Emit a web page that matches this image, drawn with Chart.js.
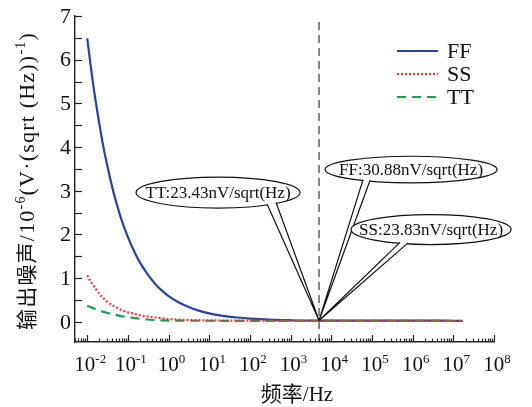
<!DOCTYPE html>
<html lang="zh">
<head>
<meta charset="UTF-8">
<title>输出噪声</title>
<script src="https://cdn.jsdelivr.net/npm/chart.js"></script>
<style>
    body {
        margin: 0;
        background: #fff;
    }
    #wrap {
        width: 532px;
        height: 407px;
    }
</style>
</head>
<body>
<div id="wrap"><canvas id="noiseChart"></canvas></div>

<script>
    // 频率 (Hz) 及三组输出噪声 (10^-6 V/sqrt(Hz))
    const freqs = [0.01, 0.012, 0.015, 0.02, 0.025, 0.03, 0.04, 0.05, 0.07, 0.1, 0.15, 0.2, 0.3, 0.5, 0.7, 1, 2, 3, 5, 10, 20, 50, 100, 300, 1000, 5000, 1e4, 1e5, 1e6, 1e7, 1.7e7];
    const ffNoise = [6.49, 5.90, 5.24, 4.51, 4.00, 3.64, 3.13, 2.78, 2.33, 1.94, 1.57, 1.35, 1.10, 0.84, 0.71, 0.59, 0.42, 0.345, 0.27, 0.196, 0.145, 0.10, 0.075, 0.05, 0.038, 0.031, 0.031, 0.030, 0.030, 0.026, 0.025];
    const ssNoise = [1.07, 0.93, 0.80, 0.64, 0.54, 0.47, 0.39, 0.34, 0.27, 0.22, 0.18, 0.15, 0.125, 0.10, 0.08, 0.065, 0.05, 0.045, 0.04, 0.035, 0.032, 0.03, 0.028, 0.026, 0.025, 0.024, 0.024, 0.024, 0.023, 0.021, 0.02];
    const ttNoise = [0.37, 0.34, 0.30, 0.26, 0.23, 0.21, 0.18, 0.16, 0.13, 0.11, 0.085, 0.07, 0.055, 0.04, 0.035, 0.03, 0.028, 0.027, 0.026, 0.026, 0.025, 0.025, 0.024, 0.024, 0.024, 0.0234, 0.023, 0.023, 0.022, 0.021, 0.02];
    const seriesNames = ['FF', 'SS', 'TT'];

    const markerFreq = 5000;
    const calloutTexts = ['TT:23.43nV/sqrt(Hz)', 'FF:30.88nV/sqrt(Hz)', 'SS:23.83nV/sqrt(Hz)'];

    const yTicks = [0, 1, 2, 3, 4, 5, 6, 7];
    const xDecades = [-2, -1, 0, 1, 2, 3, 4, 5, 6, 7, 8];

    const SERIF = '"Liberation Serif", "Times New Roman", "Noto Sans CJK SC", serif';
    const colors = { FF: '#2443a3', SS: '#f0343c', TT: '#16a04c' };
    const dashes = { FF: [], SS: [2, 2], TT: [9, 6] };

    // 标注框位置 (相对标注点的像素偏移)
    const calloutStyle = [
        { dx: -101, dy: -128, rx: 82, ry: 15.5, b1: 49, b2: 58 },
        { dx: 92, dy: -151, rx: 86, ry: 13.3, b1: -48, b2: -41 },
        { dx: 112, dy: -91, rx: 80, ry: 15, b1: -31, b2: -23 }
    ];

    function pts(values) {
        return freqs.map((f, i) => ({ x: f, y: values[i] }));
    }

    // 10^n 形式的文字 (上标)
    function drawPower(ctx, exp, cx, baseY, size) {
        ctx.font = size + 'px ' + SERIF;
        const wBase = ctx.measureText('10').width;
        const supSize = Math.round(size * 0.62);
        ctx.font = supSize + 'px ' + SERIF;
        const wSup = ctx.measureText(String(exp)).width;
        const x0 = cx - (wBase + wSup) / 2;
        ctx.textAlign = 'left';
        ctx.textBaseline = 'alphabetic';
        ctx.font = size + 'px ' + SERIF;
        ctx.fillText('10', x0, baseY);
        ctx.font = supSize + 'px ' + SERIF;
        ctx.fillText(String(exp), x0 + wBase, baseY - size * 0.4);
    }

    // 混合上标文字, 居中
    function drawRich(ctx, parts, cx, baseY, size, spacing) {
        const supSize = Math.round(size * 0.62);
        ctx.letterSpacing = (spacing || 0) + 'px';
        let total = 0;
        parts.forEach(p => {
            ctx.font = (p.sup ? supSize : (p.size || size)) + 'px ' + SERIF;
            p.w = ctx.measureText(p.t).width;
            total += p.w;
        });
        let x = cx - total / 2;
        ctx.textAlign = 'left';
        ctx.textBaseline = 'alphabetic';
        parts.forEach(p => {
            ctx.font = (p.sup ? supSize : (p.size || size)) + 'px ' + SERIF;
            ctx.fillText(p.t, x, p.sup ? baseY - size * 0.4 : baseY);
            x += p.w;
        });
        ctx.letterSpacing = '0px';
    }

    const decorPlugin = {
        id: 'decor',
        afterDatasetsDraw(chart) {
            const ctx = chart.ctx;
            const xs = chart.scales.x;
            const ys = chart.scales.y;
            const area = chart.chartArea;
            ctx.save();
            ctx.strokeStyle = '#222';
            ctx.fillStyle = '#111';
            ctx.lineWidth = 1.2;

            // y 轴刻度 (向内)
            for (let v = 0; v <= 7; v += 0.5) {
                const py = Math.round(ys.getPixelForValue(v)) + 0.5;
                ctx.beginPath();
                ctx.moveTo(area.left, py);
                ctx.lineTo(area.left + 7, py);
                ctx.stroke();
            }
            yTicks.forEach(v => {
                ctx.font = '22px ' + SERIF;
                ctx.textAlign = 'right';
                ctx.textBaseline = 'middle';
                ctx.fillText(String(v), area.left - 4, ys.getPixelForValue(v) + 1);
            });

            // x 轴刻度 (向内)
            for (let d = -3; d <= 8; d++) {
                for (let m = 1; m <= 9; m++) {
                    const f = m * Math.pow(10, d);
                    if (f < xs.min || f > xs.max * 1.0001) continue;
                    const px = Math.round(xs.getPixelForValue(f)) + 0.5;
                    const len = m === 1 ? 7 : 3.5;
                    ctx.beginPath();
                    ctx.moveTo(px, area.bottom);
                    ctx.lineTo(px, area.bottom - len);
                    ctx.stroke();
                }
            }
            xDecades.forEach(d => {
                drawPower(ctx, d, xs.getPixelForValue(Math.pow(10, d)) + 3, 371, 21);
            });

            // 坐标轴标题
            drawRich(ctx, [{ t: '频率/Hz' }], 297, 401, 21);
            ctx.save();
            ctx.translate(27, 181);
            ctx.rotate(-Math.PI / 2);
            drawRich(ctx, [
                { t: '输出噪声', size: 21 }, { t: '/10' }, { t: '-6', sup: true },
                { t: '(V·(sqrt (Hz))' }, { t: '-1', sup: true }, { t: ')' }
            ], 0, 7, 22, 1.2);
            ctx.restore();

            // 图例
            const legendY = [51, 74, 97];
            seriesNames.forEach((name, i) => {
                ctx.save();
                ctx.strokeStyle = colors[name];
                ctx.lineWidth = 2.2;
                ctx.setLineDash(dashes[name]);
                ctx.beginPath();
                ctx.moveTo(397, legendY[i]);
                ctx.lineTo(438, legendY[i]);
                ctx.stroke();
                ctx.restore();
                ctx.font = '22px ' + SERIF;
                ctx.textAlign = 'left';
                ctx.textBaseline = 'middle';
                ctx.fillText(name, 447, legendY[i] + 1);
            });

            // 标注
            const k = freqs.indexOf(markerFreq);
            const tx = xs.getPixelForValue(markerFreq);
            const ty = ys.getPixelForValue(ffNoise[k]);
            calloutTexts.forEach((text, i) => {
                const s = calloutStyle[i];
                const cx = tx + s.dx;
                const cy = ty + s.dy;
                const by1 = cy + s.ry * Math.sqrt(1 - (s.b1 / s.rx) ** 2) - 1;
                const by2 = cy + s.ry * Math.sqrt(1 - (s.b2 / s.rx) ** 2) - 1;
                ctx.lineWidth = 1.2;
                ctx.strokeStyle = '#111';
                ctx.beginPath();
                ctx.ellipse(cx, cy, s.rx, s.ry, 0, 0, Math.PI * 2);
                ctx.fillStyle = '#fff';
                ctx.fill();
                ctx.stroke();
                ctx.beginPath();
                ctx.moveTo(cx + s.b1, by1);
                ctx.lineTo(tx, ty);
                ctx.lineTo(cx + s.b2, by2);
                ctx.closePath();
                ctx.fill();
                ctx.beginPath();
                ctx.moveTo(cx + s.b1, by1);
                ctx.lineTo(tx, ty);
                ctx.lineTo(cx + s.b2, by2);
                ctx.stroke();
                ctx.fillStyle = '#111';
                ctx.font = '17px ' + SERIF;
                ctx.textAlign = 'center';
                ctx.textBaseline = 'middle';
                ctx.fillText(text, cx, cy + 1);
            });
            ctx.restore();
        }
    };

    function lineSet(name, values, order) {
        return {
            label: name,
            data: pts(values),
            borderColor: colors[name],
            borderWidth: 2.2,
            borderDash: dashes[name],
            pointRadius: 0,
            cubicInterpolationMode: 'monotone',
            fill: false,
            order: order
        };
    }

    window.onload = function () {
        const yMin = -0.46;
        new Chart(document.getElementById('noiseChart'), {
            type: 'line',
            data: {
                datasets: [
                    lineSet('FF', ffNoise, 3),
                    lineSet('TT', ttNoise, 2),
                    lineSet('SS', ssNoise, 1),
                    {
                        label: 'marker',
                        data: [{ x: markerFreq, y: yMin }, { x: markerFreq, y: 6.9 }],
                        borderColor: '#555',
                        borderWidth: 1.4,
                        borderDash: [8, 5],
                        pointRadius: 0,
                        order: 4
                    }
                ]
            },
            options: {
                responsive: true,
                maintainAspectRatio: false,
                animation: false,
                layout: { autoPadding: false, padding: { left: 75, right: 38, top: 16, bottom: 65 } },
                plugins: {
                    legend: { display: false },
                    tooltip: { enabled: false }
                },
                scales: {
                    x: {
                        type: 'logarithmic',
                        min: 0.005,
                        max: 1e8,
                        grid: { display: false, drawTicks: false },
                        ticks: { display: false },
                        border: { display: true, color: '#222', width: 1.4 }
                    },
                    y: {
                        type: 'linear',
                        min: yMin,
                        max: 7,
                        grid: { display: false, drawTicks: false },
                        ticks: { display: false },
                        border: { display: true, color: '#222', width: 1.4 }
                    }
                }
            },
            plugins: [decorPlugin]
        });
    };
</script>
</body>
</html>
